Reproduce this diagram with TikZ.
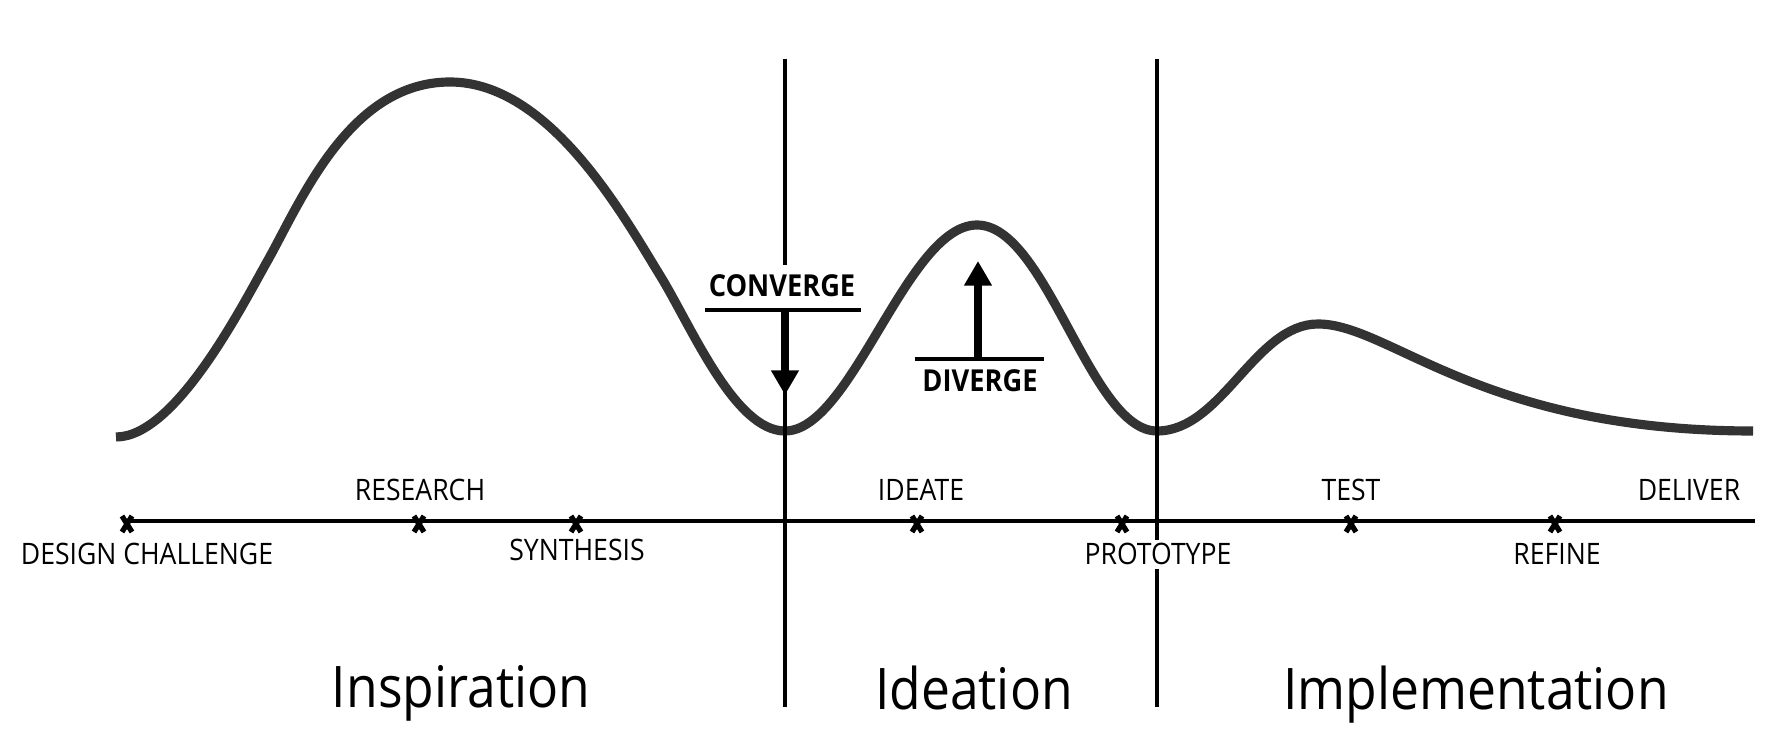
\documentclass[tikz,border=0pt]{standalone}
\usepackage{fontspec}
\setmainfont{Open Sans}[FakeStretch=0.9]
\usetikzlibrary{arrows.meta}
\tikzset{
  wave/.style={line width=2.6pt, color=black!80},
  axis/.style={line width=1.1pt},
  divider/.style={line width=1pt},
  cross/.style={line width=1.5pt},
  bar/.style={line width=1.2pt},
  flow/.style={line width=2.3pt, -{Triangle[length=7pt,width=7.5pt]}},
  lbl/.style={font=\fontsize{8.4}{10}\selectfont, anchor=base, inner sep=1pt},
  tag/.style={font=\bfseries\fontsize{8.6}{10}\selectfont, anchor=base, inner sep=1pt},
  phase/.style={font=\fontsize{16.3}{19}\selectfont, anchor=base, inner sep=0pt},
}
\begin{document}
\begin{tikzpicture}[x=0.01cm, y=-0.01cm]
  \useasboundingbox (0,0) rectangle (1765,737);
  % the wave
  \coordinate (S) at (116,437);
  \coordinate (M1) at (268,260);
  \coordinate (P1) at (450,82);
  \coordinate (M2) at (661,277);
  \coordinate (T1) at (785,431);
  \coordinate (P2) at (977,225);
  \coordinate (T2) at (1157,431);
  \coordinate (P3) at (1318,324);
  \coordinate (E) at (1753,431);
  \draw[wave] (S) .. controls (176,437) and (243,304) .. (M1)
    .. controls (302,199) and (350,82) .. (P1)
    .. controls (550,82) and (624,217) .. (M2)
    .. controls (692,328) and (735,431) .. (T1)
    .. controls (852,431) and (907,225) .. (P2)
    .. controls (1047,225) and (1090,431) .. (T2)
    .. controls (1222,431) and (1255,324) .. (P3)
    .. controls (1390,324) and (1480,431) .. (E);
  % dividers
  \coordinate (V1) at (785,59);
  \coordinate (W1) at (785,707);
  \coordinate (V2) at (1157,59);
  \coordinate (W2) at (1157,707);
  \draw[divider] (V1) -- (W1);
  \draw[divider] (V2) -- (W2);
  % time line
  \coordinate (A) at (124,521);
  \coordinate (B) at (1755,521);
  \draw[axis] (A) -- (B);
  \foreach \n/\x in {dc/127, re/419, sy/576, id/917, pr/1122, te/1351, rf/1555} {
    \coordinate (\n) at (\x,524);
    \draw[cross] (\n) ++(-5,-8) -- ++(10,16);
    \draw[cross] (\n) ++(5,-8) -- ++(-10,16);
  }
  \node[lbl] (DC) at (147,565) {DESIGN CHALLENGE};
  \node[lbl] (RE) at (420,501) {RESEARCH};
  \node[lbl] (SY) at (577,561) {SYNTHESIS};
  \node[lbl] (ID) at (921,501) {IDEATE};
  \node[lbl, fill=white] (PR) at (1158,565) {PROTOTYPE};
  \node[lbl] (TE) at (1351,501) {TEST};
  \node[lbl] (RF) at (1557,565) {REFINE};
  \node[lbl] (DE) at (1689,501) {DELIVER};
  % converge
  \node[tag, fill=white, inner sep=3pt] (CO) at (782,297) {CONVERGE};
  \coordinate (CL) at (705,310);
  \coordinate (CR) at (861,310);
  \coordinate (C1) at (785,310);
  \coordinate (C2) at (785,395);
  \draw[bar] (CL) -- (CR);
  \draw[flow] (C1) -- (C2);
  % diverge
  \node[tag] (DI) at (980,392) {DIVERGE};
  \coordinate (DL) at (915,359);
  \coordinate (DR) at (1044,359);
  \coordinate (D1) at (978,359);
  \coordinate (D2) at (978,261);
  \draw[bar] (DL) -- (DR);
  \draw[flow] (D1) -- (D2);
  % phases
  \node[phase] (IN) at (461,708) {Inspiration};
  \node[phase] (IE) at (974,710) {Ideation};
  \node[phase] (IM) at (1476,710) {Implementation};
\end{tikzpicture}
\end{document}
